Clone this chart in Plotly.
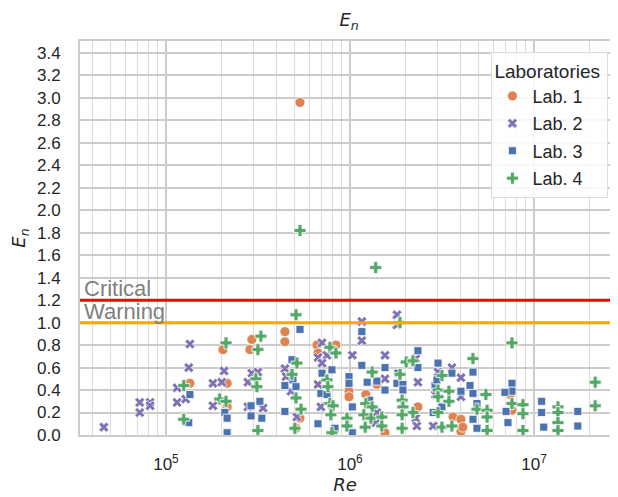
import plotly.graph_objects as go

# ---------------- data ----------------
lab1_re = [1.35e5, 2.04e5, 2.15e5, 2.15e5, 2.93e5, 2.86e5, 4.43e5, 4.43e5, 5.35e5, 5.35e5,
           6.62e5, 8.39e5, 6.70e5, 9.88e5, 9.88e5, 1.22e6, 1.40e6, 1.55e6, 2.34e6, 3.63e6,
           4.01e6, 4.01e6, 7.41e6, 7.59e6, 5.09e5, 4.10e6]
lab1_en = [0.46, 0.76, 0.46, 0.25, 0.85, 0.76, 0.92, 0.83, 2.96, 0.15,
           0.80, 0.80, 0.73, 0.39, 0.34, 0.36, 0.45, 0.02, 0.25, 0.16,
           0.14, 0.03, 0.36, 0.22, 0.06, 0.07]

lab2_re = [4.6e4, 7.2e4, 7.2e4, 8.2e4, 8.2e4, 1.35e5, 1.33e5, 1.15e5, 1.15e5, 1.28e5,
           2.07e5, 1.80e5, 2.01e5, 1.80e5, 2.93e5, 2.79e5, 2.79e5, 3.16e5, 3.37e5, 4.43e5,
           4.49e5, 4.78e5, 5.15e5, 7.05e5, 6.70e5, 7.50e5, 7.05e5, 6.70e5, 6.95e5, 1.03e6,
           1.16e6, 1.16e6, 1.40e6, 1.38e6, 1.55e6, 1.55e6, 1.80e6, 1.80e6, 2.28e6, 2.34e6,
           2.28e6, 2.31e6, 3.01e6, 2.83e6, 3.58e6, 4.01e6, 4.01e6, 2.90e6]
lab2_en = [0.07, 0.29, 0.20, 0.29, 0.26, 0.81, 0.60, 0.42, 0.29, 0.32,
           0.57, 0.46, 0.47, 0.26, 0.55, 0.47, 0.25, 0.56, 0.24, 0.59,
           0.52, 0.39, 0.16, 0.82, 0.69, 0.71, 0.64, 0.45, 0.25, 0.71,
           1.01, 0.84, 0.20, 0.11, 0.71, 0.50, 1.07, 0.98, 0.68, 0.47,
           0.15, 0.08, 0.56, 0.08, 0.60, 0.51, 0.34, 0.36]

lab3_re = [1.35e5, 1.33e5, 2.09e5, 2.15e5, 2.15e5, 2.90e5, 2.90e5, 3.24e5, 3.32e5, 5.35e5,
           4.84e5, 4.90e5, 4.43e5, 5.09e5, 4.43e5, 7.98e5, 7.05e5, 6.95e5, 7.50e5, 6.70e5,
           8.29e5, 9.88e5, 9.88e5, 1.03e6, 1.16e6, 1.16e6, 1.24e6, 1.28e6, 1.40e6, 1.55e6,
           1.55e6, 2.34e6, 2.34e6, 1.82e6, 1.80e6, 1.94e6, 1.94e6, 3.01e6, 2.90e6, 3.16e6,
           2.83e6, 2.97e6, 3.58e6, 4.66e6, 4.01e6, 4.49e6, 4.66e6, 4.90e6, 4.66e6, 4.90e6,
           7.59e6, 7.59e6, 6.95e6, 7.05e6, 7.22e6, 1.10e7, 1.10e7, 1.13e7, 1.73e7, 1.73e7,
           1.03e6]
lab3_en = [0.36, 0.11, 0.20, 0.15, 0.02, 0.26, 0.17, 0.30, 0.15, 0.94,
           0.67, 0.49, 0.44, 0.43, 0.21, 0.58, 0.55, 0.37, 0.36, 0.10,
           0.06, 0.52, 0.46, 0.25, 0.92, 0.62, 0.47, 0.31, 0.48, 0.60,
           0.40, 0.75, 0.60, 0.55, 0.46, 0.45, 0.40, 0.64, 0.44, 0.25,
           0.20, 0.49, 0.55, 0.56, 0.39, 0.44, 0.37, 0.28, 0.14, 0.06,
           0.46, 0.39, 0.38, 0.21, 0.11, 0.30, 0.20, 0.07, 0.21, 0.08,
           0.02]

lab4_re = [1.25e5, 1.25e5, 2.12e5, 1.96e5, 2.12e5, 3.16e5, 3.28e5, 3.08e5, 3.12e5, 3.16e5,
           5.09e5, 5.35e5, 5.15e5, 4.84e5, 5.09e5, 5.42e5, 5.02e5, 7.78e5, 8.39e5, 7.50e5,
           7.59e5, 7.78e5, 8.09e5, 7.88e5, 7.98e5, 9.63e5, 9.63e5, 1.38e6, 1.32e6, 1.22e6,
           1.32e6, 1.19e6, 1.30e6, 1.21e6, 1.49e6, 1.49e6, 1.87e6, 2.02e6, 2.20e6, 1.87e6,
           1.92e6, 1.94e6, 2.20e6, 1.92e6, 1.92e6, 3.16e6, 3.01e6, 3.01e6, 3.01e6, 3.16e6,
           4.66e6, 3.45e6, 3.45e6, 5.48e6, 4.90e6, 5.56e6, 5.56e6, 3.58e6, 5.56e6, 7.59e6,
           7.59e6, 8.71e6, 8.71e6, 8.71e6, 1.35e7, 1.35e7, 1.35e7, 1.35e7, 2.15e7, 2.15e7]
lab4_en = [0.44, 0.14, 0.82, 0.32, 0.30, 0.76, 0.88, 0.50, 0.43, 0.04,
           1.07, 1.82, 0.64, 0.54, 0.33, 0.23, 0.06, 0.78, 0.73, 0.49,
           0.43, 0.28, 0.26, 0.18, 0.02, 0.15, 0.08, 1.49, 0.56, 0.28,
           0.25, 0.18, 0.15, 0.07, 0.16, 0.08, 1.00, 0.65, 0.66, 0.54,
           0.31, 0.25, 0.20, 0.18, 0.06, 0.53, 0.40, 0.34, 0.20, 0.07,
           0.68, 0.39, 0.30, 0.36, 0.23, 0.22, 0.16, 0.08, 0.04, 0.82,
           0.28, 0.27, 0.19, 0.04, 0.25, 0.20, 0.11, 0.04, 0.47, 0.26]

lab_names = ["Lab. 1", "Lab. 2", "Lab. 3", "Lab. 4"]
critical_level = 1.2
warning_level = 1.0
x_tick_vals = [1e5, 1e6, 1e7]
x_tick_text = ["10<sup>5</sup>", "10<sup>6</sup>", "10<sup>7</sup>"]
y_tick_vals = [0.0, 0.2, 0.4, 0.6, 0.8, 1.0, 1.2, 1.4, 1.6, 1.8, 2.0, 2.2, 2.4,
               2.6, 2.8, 3.0, 3.2, 3.4]

# ---------------- styling ----------------
colors = ["#dd8452", "#8172b3", "#4c72b0", "#55a868"]
symbols = ["circle", "x", "square", "cross"]
sizes = [10, 9, 8, 10]
FONT = "Liberation Sans, Arial, sans-serif"
MATH = "DejaVu Sans, sans-serif"
TXT = "#262626"

fig = go.Figure()
series = [(lab1_re, lab1_en), (lab2_re, lab2_en), (lab3_re, lab3_en), (lab4_re, lab4_en)]
for i, (xs, ys) in enumerate(series):
    fig.add_trace(go.Scatter(
        x=xs, y=ys, mode="markers", name=lab_names[i], legendgroup=lab_names[i],
        marker=dict(symbol=symbols[i], color=colors[i], size=sizes[i],
                    line=dict(color="white", width=0.8)),
    ))

minor_vals = [m * 10 ** e for e in range(4, 8) for m in range(2, 10)]

fig.add_shape(type="line", xref="paper", x0=0, x1=1, yref="y",
              y0=critical_level, y1=critical_level, line=dict(color="red", width=3))
fig.add_shape(type="line", xref="paper", x0=0, x1=1, yref="y",
              y0=warning_level, y1=warning_level, line=dict(color="orange", width=3))

fig.add_annotation(xref="paper", yref="y", x=0.003, y=critical_level, text="Critical",
                   showarrow=False, xanchor="left", yanchor="bottom", yshift=-3,
                   font=dict(family=FONT, size=22, color="#808080"))
fig.add_annotation(xref="paper", yref="y", x=0.003, y=warning_level, text="Warning",
                   showarrow=False, xanchor="left", yanchor="bottom", yshift=-3,
                   font=dict(family=FONT, size=22, color="#808080"))

fig.update_layout(
    width=618, height=497,
    margin=dict(l=72, r=16, t=33, b=70, autoexpand=False),
    paper_bgcolor="white", plot_bgcolor="white",
    font=dict(family=FONT, size=17, color=TXT),
    title=dict(text="<i>E</i><sub><i>n</i></sub>", x=0.552, xanchor="center",
               y=0.976, yanchor="middle", font=dict(family=MATH, size=18, color=TXT)),
    showlegend=True,
    legend=dict(x=0.997, xanchor="right", y=0.972, yanchor="top",
                bgcolor="rgba(255,255,255,0.85)", bordercolor="#dddddd", borderwidth=1,
                tracegroupgap=1,
                font=dict(family=FONT, size=18, color=TXT),
                title=dict(text="Laboratories ", side="top",
                           font=dict(family=FONT, size=19, color=TXT))),
    xaxis=dict(type="log", range=[4.533, 7.413], automargin=False,
               tickmode="array", tickvals=x_tick_vals, ticktext=x_tick_text,
               showgrid=True, gridcolor="#cccccc", gridwidth=1.8,
               minor=dict(tickmode="array", tickvals=minor_vals, showgrid=True,
                          gridcolor="#dcdcdc", gridwidth=1),
               showline=True, mirror=True, linecolor="#cccccc", linewidth=2,
               ticks="", zeroline=False, ticklabelstandoff=13,
               tickfont=dict(family=FONT, size=17, color=TXT),
               title=dict(text="<i>Re</i>", standoff=4,
                          font=dict(family=MATH, size=18, color=TXT))),
    yaxis=dict(range=[0, 3.507], tickmode="array", tickvals=y_tick_vals, automargin=False,
               tickformat=".1f",
               showgrid=True, gridcolor="#cccccc", gridwidth=1.5,
               showline=True, mirror=True, linecolor="#cccccc", linewidth=2,
               ticks="", zeroline=False, ticklabelstandoff=14,
               tickfont=dict(family=FONT, size=17, color=TXT),
               title=dict(text="<i>E</i><sub><i>n</i></sub>", standoff=12,
                          font=dict(family=MATH, size=18, color=TXT))),
)

fig.write_html("out.html")
